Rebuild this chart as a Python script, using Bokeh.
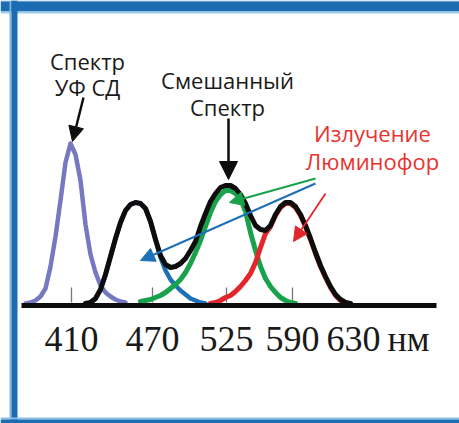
from bokeh.plotting import figure
from bokeh.models import Range1d, Arrow, NormalHead
from bokeh.core.properties import value
from bokeh.embed import file_html
from bokeh.resources import INLINE

# ---- data (schematic position along the axis, relative intensity) ----
tick_pos = [71, 152, 226, 292, 353]
tick_labels = ["410", "470", "525", "590", "630"]
unit_label = "нм"

uv_x = [25, 30, 35, 40, 45, 50, 55, 60, 65, 70, 75, 80, 85, 90, 95, 100, 105, 110, 115, 120, 125]
uv_y = [1, 2, 4, 8, 16, 38, 68, 104, 142, 161, 150, 124, 80, 50, 32, 19, 12, 8, 5, 3, 2]

blue_x = [90, 95, 100, 105, 110, 115, 120, 125, 130, 135, 140, 145, 150, 155, 160, 165, 170,
          175, 180, 185, 190, 195, 200, 205]
blue_y = [2, 6, 15, 30, 48, 66, 82, 94, 100, 102, 101, 96, 83, 65, 47, 34, 25,
          19, 14, 10, 6, 4, 2, 1]

green_x = [140, 145, 150, 155, 160, 165, 170, 175, 180, 185, 190, 195, 200, 205, 210, 215, 220,
           225, 230, 235, 240, 245, 250, 255, 260, 265, 270, 275, 280, 285, 290, 295]
green_y = [3, 4, 5, 7, 9, 12, 16, 20, 25, 32, 41, 52, 64, 78, 92, 103, 110,
           114, 114, 111, 106, 93, 72, 54, 38, 26, 18, 12, 7, 4, 2, 1]

red_x = [210, 215, 220, 225, 230, 235, 240, 245, 250, 255, 260, 265, 270, 275, 280, 285, 290,
         295, 300, 305, 310, 315, 320, 325, 330, 335, 340, 345]
red_y = [1, 2, 4, 7, 9, 13, 18, 24, 31, 42, 57, 71, 78, 89, 97, 101, 101,
         97, 89, 78, 65, 51, 38, 27, 17, 9, 4, 2]

mix_x = [85, 90, 95, 100, 105, 110, 115, 120, 125, 130, 135, 140, 145, 150, 155, 160, 165, 170,
         175, 180, 185, 190, 195, 200, 205, 210, 215, 220, 225, 230, 235, 240, 245, 250, 255,
         260, 265, 270, 275, 280, 285, 290, 295, 300, 305, 310, 315, 320, 325, 330, 335, 340,
         345, 350]
mix_y = [1, 2, 6, 15, 30, 48, 66, 82, 94, 100, 102, 101, 96, 83, 65, 49, 40, 37,
         38, 41, 46, 54, 63, 78, 91, 103, 111, 117, 119, 119, 116, 110, 101, 89, 79,
         75, 74, 79, 90, 98, 102, 102, 98, 90, 79, 66, 52, 39, 28, 18, 10, 5,
         2, 1]

# ---- figure ----
p = figure(width=459, height=423, x_range=Range1d(0, 459), y_range=Range1d(-119, 304),
           output_backend="svg", toolbar_location=None,
           x_axis_location=None, y_axis_location=None, min_border=0,
           outline_line_color=None, background_fill_color="white", border_fill_color="white")
p.grid.visible = False

FRAME = "#1b6cb1"
# frame (top band, left bar, bottom band)
p.quad(left=0, right=459, top=304, bottom=303, fill_color="#6aa8da", line_color=None)
p.quad(left=0, right=459, top=303, bottom=293, fill_color=FRAME, line_color=None)
p.quad(left=0, right=459, top=293, bottom=291, fill_color="#9ccbec", line_color=None)
p.quad(left=9, right=11, top=304, bottom=-119, fill_color="#7fb6e0", line_color=None)
p.quad(left=11, right=17, top=304, bottom=-119, fill_color=FRAME, line_color=None)
p.quad(left=0, right=459, top=-113, bottom=-115, fill_color="#8cc0e6", line_color=None)
p.quad(left=0, right=459, top=-115, bottom=-119, fill_color=FRAME, line_color=None)

# small tick marks
p.segment(x0=tick_pos[:4], x1=tick_pos[:4], y0=[2] * 4, y1=[17] * 4,
          line_color="#777777", line_width=1.3)

# spectra
p.line(uv_x, uv_y, line_color="#7479c2", line_width=4.5, line_join="round", line_cap="round")
p.line(blue_x, blue_y, line_color="#1d6fb8", line_width=4.5, line_join="round", line_cap="round")
p.line(green_x, green_y, line_color="#17a24b", line_width=5, line_join="round", line_cap="round")
p.line(red_x, red_y, line_color="#e3262b", line_width=5, line_join="round", line_cap="round")
p.line(mix_x, mix_y, line_color="#0d0d0d", line_width=5, line_join="round", line_cap="round")

# baseline
p.segment(x0=[21], x1=[436], y0=[-1], y1=[-1], line_color="#0d0d0d", line_width=5)

# arrows
def arrow(x0, y0, x1, y1, color, size, width):
    p.add_layout(Arrow(end=NormalHead(size=size, fill_color=color, line_color=color, line_width=1),
                       x_start=x0, y_start=y0, x_end=x1, y_end=y1,
                       line_color=color, line_width=width))

arrow(83, 207, 72, 163, "#0d0d0d", 15, 2.5)
arrow(228, 186, 228, 125, "#0d0d0d", 18, 2.5)
arrow(315, 126, 229, 102, "#17a24b", 14, 2)
arrow(315, 121, 140, 44, "#1d6fb8", 14, 2)
arrow(325, 111, 293, 63, "#e3262b", 14, 1.8)

# tick labels
p.text(x=tick_pos, y=[-34] * len(tick_pos), text=tick_labels,
       text_font=value("Liberation Serif"), text_font_size="36px",
       text_align="center", text_baseline="alphabetic", text_color="#1a1a1a")
p.text(x=[408], y=[-34], text=[unit_label],
       text_font=value("Liberation Serif"), text_font_size="36px",
       text_align="center", text_baseline="alphabetic", text_color="#1a1a1a")

# annotation texts
p.text(x=[87, 87, 227, 227], y=[244, 218, 225, 198],
       text=["Спектр", "УФ СД", "Смешанный", "Спектр"],
       text_font=value("Open Sans"), text_font_size="22px",
       text_align="center", text_baseline="alphabetic", text_color="#1a1a1a")
p.text(x=[372, 372], y=[172, 144], text=["Излучение", "Люминофор"],
       text_font=value("Open Sans"), text_font_size="22px",
       text_align="center", text_baseline="alphabetic", text_color="#e8332f")

open("out.html", "w").write(file_html(p, INLINE))
